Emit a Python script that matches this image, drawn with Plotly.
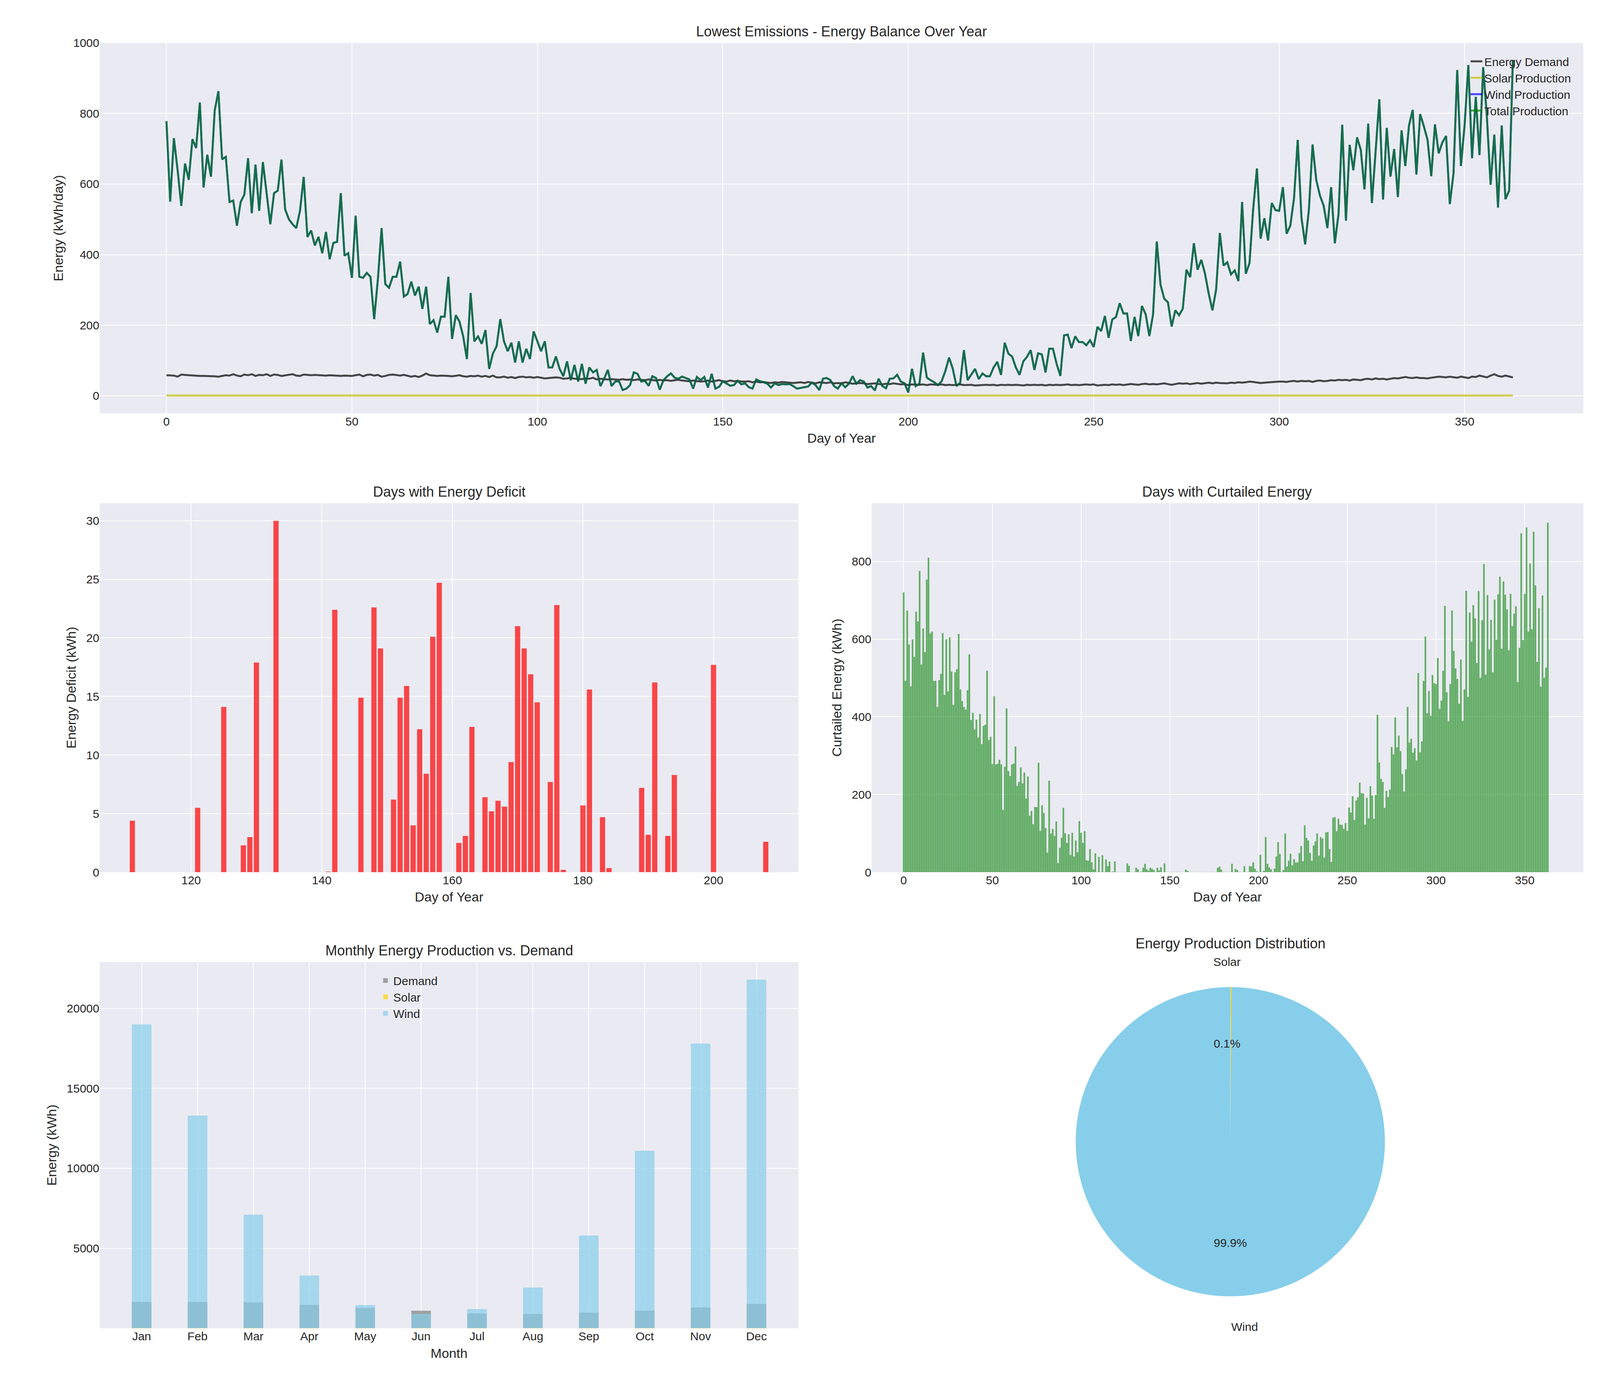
import plotly.graph_objects as go

# daily series (days 0..363)
wind_daily = [
    778,550,730,640,538,658,612,727,702,831,
    590,683,621,808,863,670,677,549,553,482,
    549,570,673,517,655,524,662,577,486,574,
    581,669,528,500,486,475,524,620,450,468,
    426,450,404,464,387,433,436,574,397,404,
    334,510,337,334,348,337,217,330,475,316,
    306,337,337,380,281,288,323,284,309,246,
    309,203,214,179,224,224,337,161,228,210,
    168,104,291,154,168,147,186,76,119,140,
    217,154,126,150,94,154,94,133,104,182,
    154,126,154,80,80,111,76,55,97,44,
    87,40,90,34,80,66,73,27,48,73,
    27,40,41,16,20,30,66,62,40,42,
    28,55,50,17,44,55,63,51,48,54,
    50,46,20,53,44,53,23,62,20,25,
    41,34,28,30,42,32,35,24,20,46,
    41,38,34,23,35,30,33,32,33,27,
    20,22,24,26,37,30,16,48,50,44,
    27,20,35,24,34,55,34,44,40,23,
    27,15,48,27,21,48,49,59,40,35,
    9,76,27,34,122,51,44,38,30,41,
    70,108,76,27,37,129,44,60,76,47,
    63,55,55,80,96,59,150,119,111,80,
    59,97,110,129,73,120,117,66,133,133,
    90,56,171,173,135,168,152,152,143,157,
    138,195,183,226,164,216,223,262,233,233,
    155,223,169,254,231,169,231,437,315,275,
    265,196,242,228,246,357,336,432,357,385,
    346,289,242,301,461,369,378,344,355,325,
    549,346,376,531,644,445,503,440,546,526,
    524,591,459,482,560,725,505,429,526,712,
    611,567,538,475,591,432,515,768,496,711,
    639,732,697,585,771,546,697,840,556,759,
    621,699,563,752,651,766,810,627,798,764,
    725,622,769,687,718,736,543,630,923,651,
    768,937,673,847,682,931,790,598,740,533,
    766,557,581,951,
]
demand_daily = [
    58,58,57,54,60,59,58,57,57,56,
    56,56,55,55,54,56,58,57,61,57,
    55,60,58,61,56,59,58,61,56,60,
    59,56,58,60,61,57,56,60,59,58,
    59,58,58,57,58,57,57,56,57,56,
    56,58,60,55,59,60,57,59,54,56,
    59,60,58,57,59,56,54,56,53,57,
    63,58,57,56,57,57,56,55,56,58,
    55,54,56,55,57,54,56,53,57,52,
    52,54,51,53,50,53,54,52,53,51,
    53,51,49,50,51,52,51,48,49,51,
    48,48,47,49,48,51,46,48,47,46,
    47,46,45,47,45,46,44,46,45,44,
    46,44,43,45,43,44,42,44,45,43,
    42,41,43,42,40,41,43,40,42,44,
    41,40,43,41,42,40,40,41,38,40,
    38,39,37,36,38,37,39,38,37,36,
    37,38,36,39,37,35,38,37,36,38,
    35,36,35,38,36,34,35,36,35,33,
    34,35,33,32,34,33,35,34,32,33,
    30,32,31,31,32,30,32,31,31,32,
    30,31,30,31,32,30,30,31,29,30,
    30,31,30,31,29,31,30,31,30,31,
    30,29,31,30,31,30,31,29,31,30,
    31,30,31,32,30,31,30,31,32,31,
    32,29,30,31,30,32,31,32,30,31,
    33,32,31,33,34,32,33,32,33,35,
    33,31,33,35,34,35,33,34,36,34,
    35,37,35,37,36,36,35,37,36,38,
    37,38,40,39,38,36,37,38,39,40,
    40,40,39,41,42,40,42,41,42,39,
    42,43,41,42,44,43,45,44,45,43,
    46,45,44,47,48,46,49,47,48,46,
    48,50,49,51,53,51,50,52,50,50,
    49,51,53,54,53,52,54,53,51,54,
    52,50,54,53,57,55,52,57,61,56,
    54,57,55,52,
]
solar_daily = [0.33] * len(wind_daily)
days = list(range(len(wind_daily)))
total_daily = [s + w for s, w in zip(solar_daily, wind_daily)]
curtailed_daily = [max(t - d, 0) for t, d in zip(total_daily, demand_daily)]

# deficit days
deficit_days = [111,121,125,128,129,130,133,141,142,146,148,149,151,152,153,154,155,156,157,158,
                161,162,163,165,166,167,168,169,170,171,172,173,175,176,177,180,181,183,184,
                189,190,191,193,194,200,208]
deficit_vals = [4.4,5.5,14.1,2.3,3.0,17.9,30.0,0.05,22.4,14.9,22.6,19.1,6.2,14.9,15.9,4.0,12.2,8.4,20.1,24.7,
                2.5,3.1,12.4,6.4,5.2,6.1,5.6,9.4,21.0,19.1,16.9,14.5,7.7,22.8,0.2,5.7,15.6,4.7,0.35,
                7.2,3.2,16.2,3.1,8.3,17.7,2.6]

# monthly totals
months = ["Jan","Feb","Mar","Apr","May","Jun","Jul","Aug","Sep","Oct","Nov","Dec"]
month_demand = [1650,1650,1620,1460,1270,1100,930,900,980,1100,1300,1530]
month_solar = [10,10,10,10,10,10,10,10,10,10,10,10]
month_wind = [19000,13300,7100,3300,1450,900,1200,2550,5800,11100,17800,21800]

pie_labels = ["Solar", "Wind"]
pie_values = [sum(solar_daily), sum(wind_daily)]

FONT = "Liberation Sans"
BG = "#EAEAF2"
fig = go.Figure()

fig.add_trace(go.Scatter(x=days, y=demand_daily, mode="lines", name="Energy Demand",
                         line=dict(color="black", width=5), opacity=0.7, xaxis="x", yaxis="y"))
fig.add_trace(go.Scatter(x=days, y=solar_daily, mode="lines", name="Solar Production",
                         line=dict(color="#bfbf00", width=5), opacity=0.7, xaxis="x", yaxis="y"))
fig.add_trace(go.Scatter(x=days, y=wind_daily, mode="lines", name="Wind Production",
                         line=dict(color="blue", width=5), opacity=0.7, xaxis="x", yaxis="y"))
fig.add_trace(go.Scatter(x=days, y=total_daily, mode="lines", name="Total Production",
                         line=dict(color="green", width=5), opacity=0.7, xaxis="x", yaxis="y"))

fig.add_trace(go.Bar(x=deficit_days, y=deficit_vals, marker=dict(color="red", line_width=0),
                     opacity=0.7, width=0.8, showlegend=False, xaxis="x2", yaxis="y2"))
fig.add_trace(go.Bar(x=days, y=curtailed_daily, marker=dict(color="green", line=dict(color="green", width=0.5)),
                     opacity=0.6, width=0.8, showlegend=False, xaxis="x3", yaxis="y3"))

for name, vals, col in [("Demand", month_demand, "gray"), ("Solar", month_solar, "gold"),
                        ("Wind", month_wind, "skyblue")]:
    fig.add_trace(go.Bar(x=months, y=vals, name=name, marker=dict(color=col, line_width=0),
                         opacity=0.7, width=0.35, xaxis="x4", yaxis="y4", legend="legend2"))

fig.add_trace(go.Pie(labels=pie_labels, values=pie_values, marker=dict(colors=["gold", "skyblue"]),
                     rotation=0, direction="counterclockwise", sort=False, textinfo="none",
                     showlegend=False, hoverinfo="label+percent",
                     domain=dict(x=[0.673, 0.867], y=[0.06, 0.302])))

ax = dict(showgrid=True, gridcolor="white", gridwidth=2, zeroline=False, showline=False,
          tickfont=dict(size=30, color="#262626"), ticks="", title_font=dict(size=34, color="#262626"))

fig.update_layout(
    autosize=True, paper_bgcolor="white", plot_bgcolor=BG,
    font=dict(family=FONT, color="#262626"), barmode="overlay", margin=dict(l=0, r=0, t=0, b=0),
    xaxis=dict(ax, domain=[0.0606, 0.9915], anchor="y", range=[-18, 382], dtick=50, title_text="Day of Year"),
    yaxis=dict(ax, domain=[0.708, 0.976], anchor="x", range=[-50, 1000], dtick=200, title_text="Energy (kWh/day)"),
    xaxis2=dict(ax, domain=[0.0606, 0.499], anchor="y2", range=[106, 213], dtick=20, title_text="Day of Year"),
    yaxis2=dict(ax, domain=[0.376, 0.643], anchor="x2", range=[0, 31.5], dtick=5, title_text="Energy Deficit (kWh)"),
    xaxis3=dict(ax, domain=[0.545, 0.9915], anchor="y3", range=[-18, 383], dtick=50, title_text="Day of Year"),
    yaxis3=dict(ax, domain=[0.376, 0.643], anchor="x3", range=[0, 950], dtick=200, title_text="Curtailed Energy (kWh)"),
    xaxis4=dict(ax, domain=[0.0606, 0.499], anchor="y4", range=[-0.75, 11.75], title_text="Month"),
    yaxis4=dict(ax, domain=[0.046, 0.311], anchor="x4", range=[0, 22900],
                tickvals=[5000, 10000, 15000, 20000], ticktext=["5000", "10000", "15000", "20000"],
                title_text="Energy (kWh)"),
    legend=dict(x=0.985, y=0.97, xanchor="right", yanchor="top", bgcolor="rgba(0,0,0,0)",
                font=dict(size=30, color="#262626")),
    legend2=dict(x=0.235, y=0.305, xanchor="left", yanchor="top", bgcolor="rgba(0,0,0,0)",
                 font=dict(size=30, color="#262626"), itemsizing="constant"),
)

titles = [("Lowest Emissions - Energy Balance Over Year", 0.526, 0.978),
          ("Days with Energy Deficit", 0.28, 0.645),
          ("Days with Curtailed Energy", 0.768, 0.645),
          ("Monthly Energy Production vs. Demand", 0.28, 0.313),
          ("Energy Production Distribution", 0.77, 0.318)]
for t, x, y in titles:
    fig.add_annotation(text=t, x=x, y=y, xref="paper", yref="paper", showarrow=False,
                       xanchor="center", yanchor="bottom", font=dict(size=36, color="#262626"))

for t, x, y in [("Solar", 0.768, 0.311), ("0.1%", 0.768, 0.252), ("99.9%", 0.770, 0.108), ("Wind", 0.779, 0.047)]:
    fig.add_annotation(text=t, x=x, y=y, xref="paper", yref="paper", showarrow=False,
                       xanchor="center", yanchor="middle", font=dict(size=30, color="#262626"))

fig.write_html("out.html", default_width="100%", default_height="100vh",
               config={"responsive": True})
